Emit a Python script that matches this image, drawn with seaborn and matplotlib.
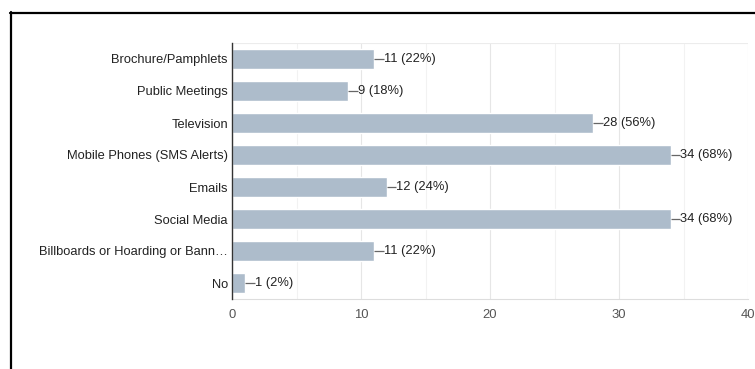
import pandas as pd
import seaborn as sns
import matplotlib.pyplot as plt
from matplotlib.lines import Line2D

categories = ["Brochure/Pamphlets", "Public Meetings", "Television",
              "Mobile Phones (SMS Alerts)", "Emails", "Social Media",
              "Billboards or Hoarding or Bann\u2026", "No"]
counts = [11, 9, 28, 34, 12, 34, 11, 1]
percents = [22, 18, 56, 68, 24, 68, 22, 2]
x_ticks = [0, 10, 20, 30, 40]

df = pd.DataFrame({"source": categories, "count": counts})

sns.set_style("white")
plt.rcParams['font.family'] = ['Liberation Sans', 'DejaVu Sans']

fig = plt.figure(figsize=(7.55, 3.69), dpi=100)
ax = fig.add_axes([232/755, 1 - 299/369, 516/755, 256/369])

sns.barplot(data=df, x="count", y="source", color="#adbccb", saturation=1,
            width=0.6, orient="h", ax=ax, zorder=3)

ax.set_xlim(0, 40)
ax.set_ylim(7.5, -0.5)
ax.set_xticks(x_ticks)
ax.set_xticklabels([str(t) for t in x_ticks], fontsize=9.4, color="#555555")
ax.set_xticks([5, 15, 25, 35], minor=True)
ax.tick_params(axis="x", which="both", length=0, pad=7)
ax.tick_params(axis="y", length=0, pad=3, labelsize=9.3, labelcolor="#222222")
ax.set_xlabel("")
ax.set_ylabel("")

# grid
ax.grid(axis="x", which="major", color="#e6e6e6", lw=0.8, zorder=0)
ax.grid(axis="x", which="minor", color="#f2f2f2", lw=0.8, zorder=0)
for side in ["top", "right"]:
    ax.spines[side].set_visible(False)
ax.axhline(-0.5, color="#ececec", lw=0.8, zorder=1)
ax.spines["bottom"].set_color("#dddddd")
ax.spines["left"].set_color("#333333")
ax.spines["left"].set_linewidth(1)
ax.spines["left"].set_zorder(5)

# value labels with a short leader line
lead = 0.75
for i, (c, p) in enumerate(zip(counts, percents)):
    ax.hlines(i, c, c + lead, color="#666666", lw=0.9, zorder=4)
    ax.text(c + lead, i, f"{c} ({p}%)", va="center", ha="left",
            fontsize=9.3, color="#222222")

# black frame of the screenshot
fig.add_artist(Line2D([10/755, 1], [1 - 12.5/369, 1 - 12.5/369],
                      transform=fig.transFigure, color="black", lw=1.6))
fig.add_artist(Line2D([11/755, 11/755], [1 - 12/369, 0],
                      transform=fig.transFigure, color="black", lw=1.6))

fig.savefig("out.png", dpi=100)
